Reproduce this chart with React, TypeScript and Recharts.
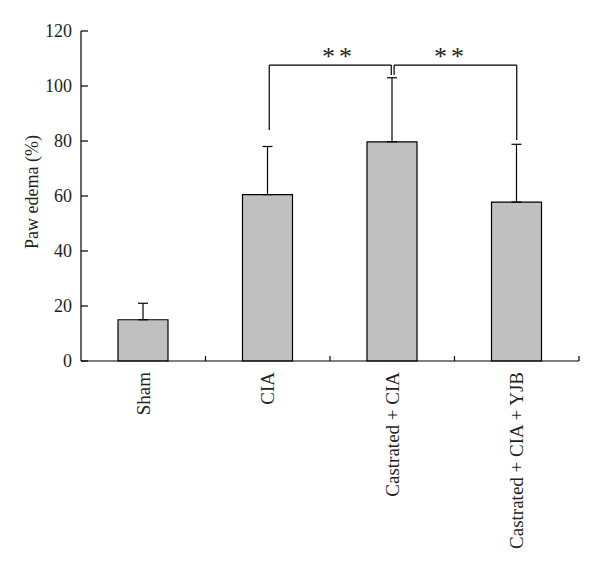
import {
  BarChart,
  Bar,
  XAxis,
  YAxis,
  ErrorBar,
  ReferenceLine,
  ReferenceDot,
} from "recharts";

const groups = ["Sham", "CIA", "Castrated + CIA", "Castrated + CIA + YJB"];
const groupPos = [0.5, 1.5, 2.5, 3.5];
const edema = [15, 60.5, 79.7, 57.8];
const edemaSd = [6, 17.5, 23.3, 21];
const yTicks = [0, 20, 40, 60, 80, 100, 120];
const boundaryTicks = [1, 2, 3, 4];

// significance brackets, in (group position, value) units
const brackets = [
  { x1: 1.512, x2: 2.492, top: 107.6, left: 84, right: 104 },
  { x1: 2.515, x2: 3.5, top: 107.6, left: 104, right: 80.4 },
];
const stars = [
  { x: 2.072, y: 107.5, text: "**" },
  { x: 2.972, y: 107.5, text: "**" },
];

const data = groups.map((g, i) => ({
  group: g,
  pos: groupPos[i],
  value: edema[i],
  err: [0, edemaSd[i]],
}));

const FONT = '"Liberation Serif", "Times New Roman", Times, serif';
const INK = "#231f20";

const GroupTick = ({ x, y, payload }: any) => (
  <text
    x={x}
    y={y}
    transform={`rotate(-90 ${x} ${y})`}
    textAnchor="end"
    dy="0.35em"
    style={{ fontFamily: FONT, fontSize: 19 }}
    fill={INK}
  >
    {payload.value}
  </text>
);

// inward tick mark on the category boundaries
const BoundaryTick = ({ x, y }: any) => (
  <line x1={x} x2={x} y1={y} y2={y - 5} stroke="#000" strokeWidth={1.2} />
);

// label to the left, tick mark pointing into the plot
const ValueTick = ({ x, y, payload }: any) => (
  <g>
    <line x1={x + 9} x2={x + 16} y1={y} y2={y} stroke="#000" strokeWidth={1.2} />
    <text
      x={x}
      y={y}
      textAnchor="end"
      dy="0.35em"
      style={{ fontFamily: FONT, fontSize: 18 }}
      fill={INK}
    >
      {payload.value}
    </text>
  </g>
);

const YLabel = ({ viewBox }: any) => {
  const cx = viewBox.x + 32;
  const cy = viewBox.y + viewBox.height / 2 - 4;
  return (
    <text
      x={cx}
      y={cy}
      transform={`rotate(-90 ${cx} ${cy})`}
      textAnchor="middle"
      dy="0.35em"
      style={{ fontFamily: FONT, fontSize: 18 }}
      fill={INK}
    >
      Paw edema (%)
    </text>
  );
};

const Stars = ({ cx, cy, text }: any) => (
  <text
    x={cx}
    y={cy}
    textAnchor="middle"
    style={{ fontFamily: FONT, fontSize: 26, letterSpacing: 4 }}
    fill={INK}
  >
    {text}
  </text>
);

export default function App() {
  return (
    <div style={{ position: "absolute", left: 0, top: 0 }}>
      <BarChart
        width={600}
        height={575}
        data={data}
        margin={{ top: 31, right: 21, left: 0, bottom: 0 }}
      >
        <XAxis
          xAxisId="a"
          type="number"
          dataKey="pos"
          domain={[0, 4]}
          allowDataOverflow
          ticks={boundaryTicks}
          interval={0}
          height={1}
          tickSize={0}
          tickMargin={0}
          tickLine={false}
          tick={<BoundaryTick />}
          axisLine={{ stroke: "#000", strokeWidth: 1.2 }}
        />
        <XAxis
          xAxisId="b"
          dataKey="group"
          height={213}
          axisLine={false}
          tickLine={false}
          tickSize={0}
          tickMargin={10}
          interval={0}
          tick={<GroupTick />}
        />
        <YAxis
          width={81}
          domain={[0, 120]}
          ticks={yTicks}
          interval={0}
          tickSize={0}
          tickMargin={9}
          tickLine={false}
          axisLine={{ stroke: "#000", strokeWidth: 1.2 }}
          tick={<ValueTick />}
          label={<YLabel />}
        />
        <Bar
          xAxisId="b"
          dataKey="value"
          barSize={50}
          fill="#c0c0c0"
          stroke="#000"
          strokeWidth={1.2}
          isAnimationActive={false}
        >
          <ErrorBar
            dataKey="err"
            direction="y"
            width={5}
            stroke="#000"
            strokeWidth={1.2}
          />
        </Bar>
        {brackets.map((b, i) => (
          <ReferenceLine
            key={`h${i}`}
            xAxisId="a"
            segment={[
              { x: b.x1, y: b.top },
              { x: b.x2, y: b.top },
            ]}
            stroke="#000"
            strokeWidth={1.2}
          />
        ))}
        {brackets.map((b, i) => (
          <ReferenceLine
            key={`l${i}`}
            xAxisId="a"
            segment={[
              { x: b.x1, y: b.top },
              { x: b.x1, y: b.left },
            ]}
            stroke="#000"
            strokeWidth={1.2}
          />
        ))}
        {brackets.map((b, i) => (
          <ReferenceLine
            key={`r${i}`}
            xAxisId="a"
            segment={[
              { x: b.x2, y: b.top },
              { x: b.x2, y: b.right },
            ]}
            stroke="#000"
            strokeWidth={1.2}
          />
        ))}
        {stars.map((s, i) => (
          <ReferenceDot
            key={`s${i}`}
            xAxisId="a"
            x={s.x}
            y={s.y}
            r={0}
            shape={(p: any) => <Stars {...p} text={s.text} />}
          />
        ))}
      </BarChart>
    </div>
  );
}
